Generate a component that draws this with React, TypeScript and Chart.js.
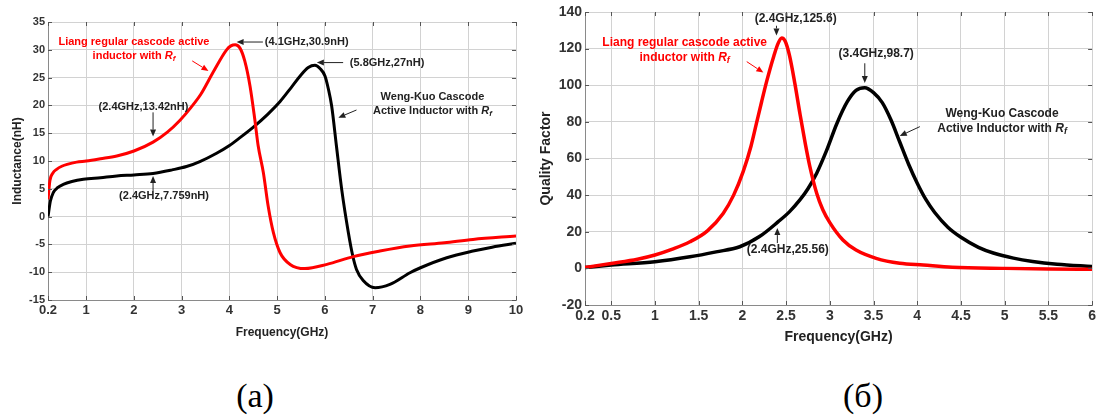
import React, { useEffect, useRef } from "react";
import { Chart, registerables } from "chart.js";

Chart.register(...registerables);

const FONT = '"Liberation Sans", Arial, Helvetica, sans-serif';

// ---------- Chart (a): Inductance vs frequency ----------
const freqLiangL = [0.2, 0.24, 0.3, 0.38, 0.5, 0.6, 0.8, 1.0, 1.3, 1.64, 2.0, 2.4, 2.7, 2.96, 3.2, 3.4, 3.66, 3.94, 4.03, 4.12, 4.22, 4.32, 4.43, 4.53, 4.6, 4.71, 4.81, 4.92, 5.06, 5.27, 5.58, 6.04, 6.59, 7.15, 7.78, 8.5, 9.1, 10];
const indLiang = [3.1, 6.5, 7.8, 8.5, 9.1, 9.4, 9.8, 10.0, 10.4, 10.9, 11.8, 13.4, 15.2, 17.3, 19.7, 22.0, 26.0, 30.0, 30.7, 30.9, 30.3, 28.0, 23.5, 17.5, 12.8, 7.9, 1.9, -2.9, -6.5, -8.6, -9.35, -8.6, -7.2, -6.2, -5.3, -4.7, -4.1, -3.5];
const freqWengL = [0.2, 0.25, 0.31, 0.4, 0.52, 0.7, 0.94, 1.3, 1.64, 2.0, 2.4, 2.8, 3.1, 3.38, 3.73, 4.0, 4.22, 4.5, 4.8, 5.06, 5.3, 5.48, 5.65, 5.79, 5.9, 6.0, 6.07, 6.14, 6.24, 6.35, 6.49, 6.58, 6.66, 6.8, 7.05, 7.36, 7.78, 8.0, 8.55, 9.1, 9.5, 10];
const indWeng = [0.0, 2.8, 4.3, 5.2, 5.8, 6.3, 6.7, 7.0, 7.3, 7.5, 7.76, 8.4, 9.0, 9.9, 11.4, 12.8, 14.2, 16.1, 18.4, 20.7, 23.3, 25.3, 26.8, 27.2, 26.6, 25.3, 23.0, 19.9, 12.7, 4.9, -2.9, -7.0, -9.5, -11.5, -12.8, -12.2, -10.1, -9.2, -7.4, -6.2, -5.5, -4.8];
const xTicksA = [0.2, 1, 2, 3, 4, 5, 6, 7, 8, 9, 10];
const yRangeA = [-15, 35];

// ---------- Chart (б): Quality factor vs frequency ----------
const freqLiangQ = [0.2, 0.5, 0.8, 1.0, 1.2, 1.4, 1.6, 1.78, 1.9, 2.01, 2.1, 2.16, 2.22, 2.28, 2.36, 2.41, 2.45, 2.49, 2.54, 2.6, 2.66, 2.72, 2.77, 2.85, 2.92, 3.0, 3.15, 3.3, 3.53, 3.8, 4.07, 4.4, 5.0, 5.5, 6.0];
const qLiang = [0.5, 2.7, 5.0, 7.3, 10.5, 14.5, 20.5, 30, 40, 53, 67, 79, 91, 102.5, 116, 123, 125.8, 124, 116, 101, 84, 68, 56, 41, 32, 25, 15.5, 10, 5.5, 2.8, 1.8, 0.6, 0, -0.3, -0.5];
const freqWengQ = [0.2, 0.5, 1.0, 1.4, 1.7, 1.97, 2.2, 2.41, 2.54, 2.66, 2.75, 2.85, 2.96, 3.08, 3.2, 3.3, 3.4, 3.5, 3.6, 3.7, 3.8, 3.9, 4.0, 4.1, 4.2, 4.35, 4.5, 4.7, 4.87, 5.1, 5.32, 5.6, 6.0];
const qWeng = [0.5, 1.8, 3.6, 6.3, 9.0, 11.8, 17.5, 25.5, 31, 37.5, 43.5, 52, 64, 79, 91, 97.2, 98.7, 96, 90.5, 81, 69, 57, 46.5, 37.5, 30.5, 22.5, 17, 11.5, 8.4, 5.6, 3.8, 2.3, 1.0];
const xTicksB = [0.2, 0.5, 1, 1.5, 2, 2.5, 3, 3.5, 4, 4.5, 5, 5.5, 6];
const yRangeB = [-20, 140];

const LIANG_LABEL = "Liang regular cascode active";
const WENG_LABEL = "Weng-Kuo Cascode";

type Seg = { t: string; i?: boolean; sub?: boolean };
type Note = { lines: Seg[][]; x: number; y: number; align: "center" | "left"; color: string };
type Arrow = { from: [number, number]; to: [number, number]; color: string };

const withRf = (pre: string): Seg[] => [{ t: pre }, { t: "R", i: true }, { t: "f", i: true, sub: true }];

const notesA: Note[] = [
  { lines: [[{ t: LIANG_LABEL }], withRf("inductor with ")], x: 2.0, y: 31.4, align: "center", color: "#ff0000" },
  { lines: [[{ t: "(2.4GHz,13.42nH)" }]], x: 2.2, y: 19.8, align: "center", color: "#222" },
  { lines: [[{ t: "(2.4GHz,7.759nH)" }]], x: 2.63, y: 3.8, align: "center", color: "#222" },
  { lines: [[{ t: "(4.1GHz,30.9nH)" }]], x: 4.74, y: 31.4, align: "left", color: "#222" },
  { lines: [[{ t: "(5.8GHz,27nH)" }]], x: 6.52, y: 27.7, align: "left", color: "#222" },
  { lines: [[{ t: WENG_LABEL }], withRf("Active Inductor with ")], x: 8.25, y: 21.5, align: "center", color: "#222" },
];
const arrowsA: Arrow[] = [
  { from: [3.22, 28.0], to: [3.56, 26.2], color: "#ff0000" },
  { from: [2.4, 18.75], to: [2.4, 14.4], color: "#222" },
  { from: [2.4, 4.6], to: [2.4, 7.3], color: "#222" },
  { from: [4.7, 31.4], to: [4.15, 31.4], color: "#222" },
  { from: [6.38, 27.7], to: [5.83, 27.7], color: "#222" },
  { from: [6.66, 19.17], to: [6.28, 17.8], color: "#222" },
];

const notesB: Note[] = [
  { lines: [[{ t: "(2.4GHz,125.6)" }]], x: 2.61, y: 136.2, align: "center", color: "#222" },
  { lines: [[{ t: LIANG_LABEL }], withRf("inductor with ")], x: 1.34, y: 123.5, align: "center", color: "#ff0000" },
  { lines: [[{ t: "(3.4GHz,98.7)" }]], x: 3.53, y: 117.5, align: "center", color: "#222" },
  { lines: [[{ t: WENG_LABEL }], withRf("Active Inductor with ")], x: 4.97, y: 84.7, align: "center", color: "#222" },
  { lines: [[{ t: "(2.4GHz,25.56)" }]], x: 2.52, y: 10, align: "center", color: "#222" },
];
const arrowsB: Arrow[] = [
  { from: [2.39, 132.5], to: [2.39, 127.2], color: "#222" },
  { from: [2.05, 112.9], to: [2.24, 106.9], color: "#ff0000" },
  { from: [3.4, 112], to: [3.4, 101.2], color: "#222" },
  { from: [4.03, 77.4], to: [3.8, 72.3], color: "#222" },
  { from: [2.4, 13.8], to: [2.4, 22.0], color: "#222" },
];

function drawRich(ctx: CanvasRenderingContext2D, segs: Seg[], x: number, y: number, align: string, size: number, color: string) {
  const fontFor = (s: Seg) => `${s.i ? "italic " : ""}bold ${s.sub ? Math.round(size * 0.72) : size}px ${FONT}`;
  const widths = segs.map((s) => {
    ctx.font = fontFor(s);
    return ctx.measureText(s.t).width;
  });
  const total = widths.reduce((a, b) => a + b, 0);
  let cx = align === "center" ? x - total / 2 : x;
  ctx.fillStyle = color;
  ctx.textBaseline = "middle";
  ctx.textAlign = "left";
  segs.forEach((s, k) => {
    ctx.font = fontFor(s);
    ctx.fillText(s.t, cx, s.sub ? y + size * 0.28 : y);
    cx += widths[k];
  });
}

function drawArrow(ctx: CanvasRenderingContext2D, x1: number, y1: number, x2: number, y2: number, color: string) {
  const ang = Math.atan2(y2 - y1, x2 - x1);
  const head = 7;
  const hw = 3;
  const bx = x2 - Math.cos(ang) * head;
  const by = y2 - Math.sin(ang) * head;
  ctx.strokeStyle = color;
  ctx.fillStyle = color;
  ctx.lineWidth = 1;
  ctx.beginPath();
  ctx.moveTo(x1, y1);
  ctx.lineTo(bx, by);
  ctx.stroke();
  ctx.beginPath();
  ctx.moveTo(x2, y2);
  ctx.lineTo(bx - Math.sin(ang) * hw, by + Math.cos(ang) * hw);
  ctx.lineTo(bx + Math.sin(ang) * hw, by - Math.cos(ang) * hw);
  ctx.closePath();
  ctx.fill();
}

type Cfg = {
  width: number;
  height: number;
  series: { xs: number[]; ys: number[]; color: string }[];
  xTicks: number[];
  yRange: number[];
  yStep: number;
  yTitle: string;
  xTitle: string;
  yTickSize: number;
  xTickSize: number;
  titleSize: number;
  noteSize: number;
  lineGap: number;
  yAxisWidth: number;
  xAxisHeight: number;
  padTop: number;
  padRight: number;
  yTitlePad: number;
  xTitlePad: number;
  lineWidth: number;
  notes: Note[];
  arrows: Arrow[];
};

function LineChart({ cfg, style }: { cfg: Cfg; style: React.CSSProperties }) {
  const ref = useRef<HTMLCanvasElement | null>(null);
  useEffect(() => {
    if (!ref.current) return;
    const innerTicks = {
      id: "innerTicks",
      afterDraw(chart: any) {
        const ctx = chart.ctx as CanvasRenderingContext2D;
        const { left, right, top, bottom } = chart.chartArea;
        const xs = chart.scales.x;
        const ys = chart.scales.y;
        const len = 4;
        ctx.save();
        ctx.strokeStyle = "#555";
        ctx.lineWidth = 1;
        ctx.beginPath();
        xs.ticks.forEach((t: any) => {
          const p = Math.round(xs.getPixelForValue(t.value)) + 0.5;
          ctx.moveTo(p, bottom);
          ctx.lineTo(p, bottom - len);
          ctx.moveTo(p, top);
          ctx.lineTo(p, top + len);
        });
        ys.ticks.forEach((t: any) => {
          const p = Math.round(ys.getPixelForValue(t.value)) + 0.5;
          ctx.moveTo(left, p);
          ctx.lineTo(left + len, p);
          ctx.moveTo(right, p);
          ctx.lineTo(right - len, p);
        });
        ctx.stroke();
        ctx.restore();
      },
    };
    const annot = {
      id: "annot",
      afterDatasetsDraw(chart: any) {
        const ctx = chart.ctx as CanvasRenderingContext2D;
        const xs = chart.scales.x;
        const ys = chart.scales.y;
        ctx.save();
        cfg.arrows.forEach((a) => {
          drawArrow(ctx, xs.getPixelForValue(a.from[0]), ys.getPixelForValue(a.from[1]), xs.getPixelForValue(a.to[0]), ys.getPixelForValue(a.to[1]), a.color);
        });
        cfg.notes.forEach((n) => {
          const px = xs.getPixelForValue(n.x);
          const py = ys.getPixelForValue(n.y);
          n.lines.forEach((ln, k) => drawRich(ctx, ln, px, py + k * cfg.lineGap, n.align, cfg.noteSize, n.color));
        });
        ctx.restore();
      },
    };
    const chart = new Chart(ref.current, {
      type: "line",
      data: {
        datasets: cfg.series.map((s) => ({
          data: s.xs.map((x, i) => ({ x, y: s.ys[i] })),
          borderColor: s.color,
          backgroundColor: s.color,
          borderWidth: cfg.lineWidth,
          pointRadius: 0,
          cubicInterpolationMode: "monotone" as const,
          fill: false,
        })),
      },
      options: {
        animation: false,
        responsive: false,
        devicePixelRatio: 1,
        layout: { padding: { top: cfg.padTop, right: cfg.padRight, left: 0, bottom: 0 } },
        plugins: { legend: { display: false }, tooltip: { enabled: false }, title: { display: false } },
        scales: {
          x: {
            type: "linear",
            min: cfg.xTicks[0],
            max: cfg.xTicks[cfg.xTicks.length - 1],
            afterBuildTicks: (s: any) => {
              s.ticks = cfg.xTicks.map((v) => ({ value: v }));
            },
            afterFit: (s: any) => {
              s.height = cfg.xAxisHeight;
            },
            ticks: {
              autoSkip: false,
              maxRotation: 0,
              padding: 3,
              color: "#333",
              font: { family: FONT, size: cfg.xTickSize, weight: "bold" },
              callback: (v: any) => String(v),
            },
            grid: { color: "#d2d2d2", lineWidth: 1, drawTicks: false },
            border: { color: "#8a8a8a", width: 1 },
            title: {
              display: true,
              text: cfg.xTitle,
              color: "#222",
              font: { family: FONT, size: cfg.titleSize, weight: "bold" },
              padding: { top: 0, bottom: cfg.xTitlePad },
            },
          },
          y: {
            type: "linear",
            min: cfg.yRange[0],
            max: cfg.yRange[1],
            afterFit: (s: any) => {
              s.width = cfg.yAxisWidth;
            },
            ticks: {
              stepSize: cfg.yStep,
              padding: 3,
              color: "#333",
              font: { family: FONT, size: cfg.yTickSize, weight: "bold" },
            },
            grid: { color: "#d2d2d2", lineWidth: 1, drawTicks: false },
            border: { color: "#8a8a8a", width: 1 },
            title: {
              display: true,
              text: cfg.yTitle,
              color: "#222",
              font: { family: FONT, size: cfg.titleSize, weight: "bold" },
              padding: { top: cfg.yTitlePad, bottom: 0 },
            },
          },
        },
      },
      plugins: [innerTicks, annot],
    } as any);
    return () => chart.destroy();
  }, [cfg]);
  return <canvas ref={ref} width={cfg.width} height={cfg.height} style={style} />;
}

const cfgA: Cfg = {
  width: 530,
  height: 345,
  series: [
    { xs: freqLiangL, ys: indLiang, color: "#ff0000" },
    { xs: freqWengL, ys: indWeng, color: "#000000" },
  ],
  xTicks: xTicksA,
  yRange: yRangeA,
  yStep: 5,
  yTitle: "Inductance(nH)",
  xTitle: "Frequency(GHz)",
  yTickSize: 11,
  xTickSize: 13,
  titleSize: 12,
  noteSize: 11,
  lineGap: 14,
  yAxisWidth: 48,
  xAxisHeight: 45,
  padTop: 22,
  padRight: 14,
  yTitlePad: 10,
  xTitlePad: 5,
  lineWidth: 3,
  notes: notesA,
  arrows: arrowsA,
};

const cfgB: Cfg = {
  width: 569,
  height: 350,
  series: [
    { xs: freqLiangQ, ys: qLiang, color: "#ff0000" },
    { xs: freqWengQ, ys: qWeng, color: "#000000" },
  ],
  xTicks: xTicksB,
  yRange: yRangeB,
  yStep: 20,
  yTitle: "Quality Factor",
  xTitle: "Frequency(GHz)",
  yTickSize: 14,
  xTickSize: 14,
  titleSize: 14,
  noteSize: 12,
  lineGap: 15,
  yAxisWidth: 55,
  xAxisHeight: 45,
  padTop: 12,
  padRight: 6,
  yTitlePad: 8,
  xTitlePad: 4,
  lineWidth: 3.5,
  notes: notesB,
  arrows: arrowsB,
};

const captionStyle: React.CSSProperties = {
  position: "absolute",
  top: 376,
  width: 100,
  textAlign: "center",
  fontFamily: '"Liberation Serif", "Times New Roman", serif',
  fontSize: 34,
  lineHeight: "40px",
  color: "#000",
};

export default function App() {
  return (
    <div style={{ position: "absolute", left: 0, top: 0, width: 1099, height: 416, background: "#fff", overflow: "hidden" }}>
      <LineChart cfg={cfgA} style={{ position: "absolute", left: 0, top: 0 }} />
      <LineChart cfg={cfgB} style={{ position: "absolute", left: 530, top: 0 }} />
      <div style={{ ...captionStyle, left: 205 }}>(a)</div>
      <div style={{ ...captionStyle, left: 813 }}>(б)</div>
    </div>
  );
}
